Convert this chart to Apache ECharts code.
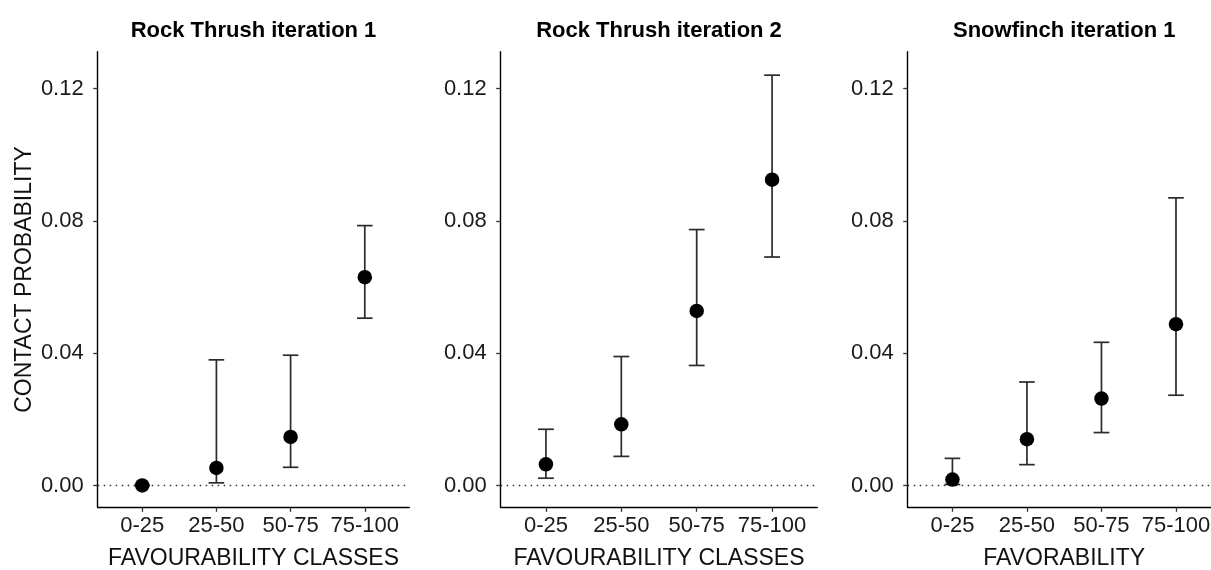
<!DOCTYPE html>
<html>
<head>
<meta charset="utf-8">
<script src="https://cdn.jsdelivr.net/npm/echarts@6/dist/echarts.min.js"></script>
<style>
  html, body { margin: 0; padding: 0; background: #fff; }
  #chart { width: 1211px; height: 570px; }
</style>
</head>
<body>
<div id="chart"></div>
<script>
  // favourability classes and y tick values
  const categories = ['0-25', '25-50', '50-75', '75-100'];
  const yTicks = [0, 0.04, 0.08, 0.12];

  const panelTitles = ['Rock Thrush iteration 1', 'Rock Thrush iteration 2', 'Snowfinch iteration 1'];
  const xTitles = ['FAVOURABILITY CLASSES', 'FAVOURABILITY CLASSES', 'FAVORABILITY'];
  const yTitle = 'CONTACT PROBABILITY';

  // Rock Thrush iteration 1
  const rt1Mean = [0.0000, 0.0053, 0.0147, 0.0630];
  const rt1Low = [0.0000, 0.0008, 0.0055, 0.0506];
  const rt1High = [0.0000, 0.0380, 0.0394, 0.0786];

  // Rock Thrush iteration 2
  const rt2Mean = [0.0064, 0.0185, 0.0528, 0.0925];
  const rt2Low = [0.0022, 0.0088, 0.0363, 0.0691];
  const rt2High = [0.0170, 0.0390, 0.0774, 0.1241];

  // Snowfinch iteration 1
  const sfMean = [0.0018, 0.0140, 0.0263, 0.0488];
  const sfLow = [0.0003, 0.0063, 0.0160, 0.0273];
  const sfHigh = [0.0082, 0.0313, 0.0433, 0.0870];

  const panels = [
    { mean: rt1Mean, low: rt1Low, high: rt1High, left: 97.7, width: 311.6 },
    { mean: rt2Mean, low: rt2Low, high: rt2High, left: 500.7, width: 316.6 },
    { mean: sfMean, low: sfLow, high: sfHigh, left: 907.7, width: 313 }
  ];

  const FONT = '"Liberation Sans", Arial, sans-serif';
  const capWidth = 0.21;

  function renderErr(params, api) {
    const x = api.value(0);
    const lo = api.coord([x, api.value(1)]);
    const hi = api.coord([x, api.value(2)]);
    const half = api.size([capWidth, 0])[0] / 2;
    const style = { stroke: '#2b2b2b', lineWidth: 1.7 };
    return {
      type: 'group',
      children: [
        { type: 'line', shape: { x1: lo[0], y1: lo[1], x2: hi[0], y2: hi[1] }, style: style },
        { type: 'line', shape: { x1: lo[0] - half, y1: lo[1], x2: lo[0] + half, y2: lo[1] }, style: style },
        { type: 'line', shape: { x1: hi[0] - half, y1: hi[1], x2: hi[0] + half, y2: hi[1] }, style: style }
      ]
    };
  }

  const chart = echarts.init(document.getElementById('chart'));

  const grids = [], xAxes = [], yAxes = [], series = [], titles = [];

  panels.forEach(function (p, i) {
    grids.push({ left: p.left, width: p.width, top: 51.7, height: 455.6, outerBoundsMode: 'none' });

    titles.push({
      text: panelTitles[i],
      left: p.left + p.width / 2,
      top: 20,
      padding: 0,
      textAlign: 'center',
      textStyle: { fontFamily: FONT, fontSize: 22, fontWeight: 'bold', color: '#000' }
    });

    xAxes.push({
      type: 'value',
      gridIndex: i,
      min: -0.6,
      max: 3.6,
      name: xTitles[i],
      nameLocation: 'middle',
      nameGap: 40,
      nameTextStyle: { fontFamily: FONT, fontSize: 23, color: '#111' },
      splitLine: { show: false },
      axisLine: { onZero: false, lineStyle: { color: '#000', width: 1.4 } },
      axisTick: { length: 4.5, customValues: [0, 1, 2, 3], lineStyle: { color: '#333', width: 1.3 } },
      axisLabel: {
        customValues: [0, 1, 2, 3],
        margin: 8,
        fontFamily: FONT,
        fontSize: 22,
        color: '#1a1a1a',
        formatter: function (v) { return categories[Math.round(v)]; }
      }
    });

    yAxes.push({
      type: 'value',
      gridIndex: i,
      min: -0.0066,
      max: 0.1312,
      name: i === 0 ? yTitle : '',
      nameLocation: 'middle',
      nameGap: 62,
      nameTextStyle: { fontFamily: FONT, fontSize: 23, color: '#111' },
      splitLine: { show: false },
      axisLine: { onZero: false, lineStyle: { color: '#000', width: 1.4 } },
      axisTick: { length: 4.5, customValues: yTicks, lineStyle: { color: '#333', width: 1.3 } },
      axisLabel: {
        customValues: yTicks,
        margin: 14,
        fontFamily: FONT,
        fontSize: 22,
        color: '#1a1a1a',
        formatter: function (v) { return v.toFixed(2); }
      }
    });

    series.push({
      type: 'custom',
      xAxisIndex: i,
      yAxisIndex: i,
      renderItem: renderErr,
      encode: { x: 0, y: [1, 2] },
      data: categories.map(function (c, k) { return [k, p.low[k], p.high[k]]; }),
      z: 2
    });

    series.push({
      type: 'scatter',
      xAxisIndex: i,
      yAxisIndex: i,
      symbolSize: 14.5,
      itemStyle: { color: '#000', opacity: 1 },
      data: categories.map(function (c, k) { return [k, p.mean[k]]; }),
      z: 3,
      markLine: {
        silent: true,
        symbol: ['none', 'none'],
        label: { show: false },
        lineStyle: { type: [1.5, 4.5], color: '#333', width: 1.3 },
        data: [{ yAxis: 0 }],
        z: 1
      }
    });
  });

  chart.setOption({
    backgroundColor: '#fff',
    animation: false,
    title: titles,
    grid: grids,
    xAxis: xAxes,
    yAxis: yAxes,
    series: series
  });
</script>
</body>
</html>
